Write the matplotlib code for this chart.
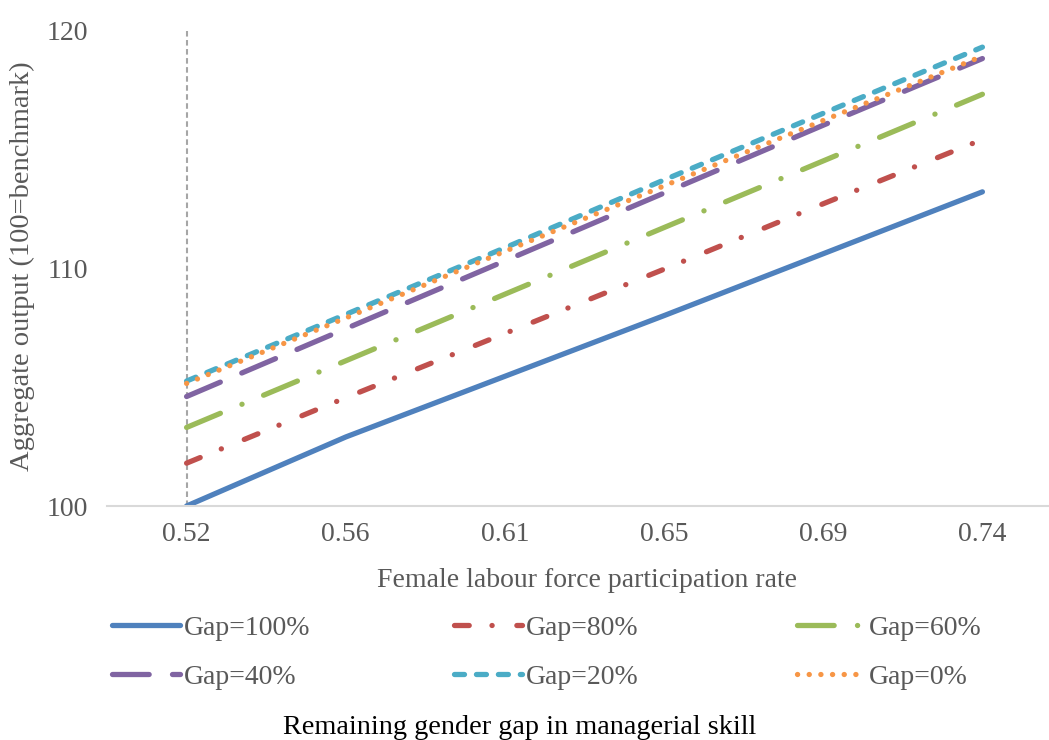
import matplotlib
matplotlib.use("Agg")
import matplotlib.pyplot as plt

plt.rcParams['font.family'] = ['Liberation Serif', 'DejaVu Serif']
plt.rcParams['lines.scale_dashes'] = False

categories = ["0.52", "0.56", "0.61", "0.65", "0.69", "0.74"]
gap100 = [100.0, 102.9, 105.45, 108.0, 110.6, 113.2]
gap80 = [101.8, 104.55, 107.25, 109.95, 112.7, 115.4]
gap60 = [103.3, 106.1, 108.9, 111.7, 114.5, 117.3]
gap40 = [104.6, 107.45, 110.3, 113.15, 116.0, 118.8]
gap20 = [105.25, 108.05, 110.85, 113.7, 116.5, 119.28]
gap0 = [105.15, 107.9, 110.7, 113.45, 116.2, 118.9]
series_labels = ["Gap=100%", "Gap=80%", "Gap=60%", "Gap=40%", "Gap=20%", "Gap=0%"]
yticks = [100, 110, 120]

W, H = 1049, 740
fig = plt.figure(figsize=(W / 100, H / 100), dpi=100)
ax = fig.add_axes([107 / W, (H - 506) / H, 955 / W, 476 / H])

lw = 3.8
styles = [
    dict(color='#4F81BD', linestyle='-'),
    dict(color='#C0504D', linestyle=(0, (10.6, 16.4, 0.1, 17.8))),
    dict(color='#9BBB59', linestyle=(0, (26.4, 16.8, 0.1, 16.8))),
    dict(color='#8064A2', linestyle=(0, (26.4, 16.8))),
    dict(color='#4BACC6', linestyle=(0, (7.2, 8.6))),
    dict(color='#F79646', linestyle=(0, (0.1, 8.3))),
]
data = [gap100, gap80, gap60, gap40, gap20, gap0]
x = list(range(len(categories)))
lines = []
for vals, st, lab in zip(data, styles, series_labels):
    ln, = ax.plot(x, vals, lw=lw, solid_capstyle='round', dash_capstyle='round',
                  label=lab, **st)
    lines.append(ln)

ax.axvline(0, ymin=0, ymax=1, color='#A6A6A6', lw=1.5, linestyle=(0, (4, 2.5)), zorder=0.5)

ax.set_xlim(-0.5, 5.5)
ax.set_ylim(100, 120)
ax.set_xticks(x)
ax.set_xticklabels(categories)
ax.set_yticks(yticks)
ax.set_yticklabels([str(v) for v in yticks])
ax.tick_params(axis='both', length=0, labelsize=20, labelcolor='#595959')
ax.tick_params(axis='x', pad=11.5)
ax.tick_params(axis='y', pad=13.5)
for s in ['top', 'right', 'left']:
    ax.spines[s].set_visible(False)
ax.spines['bottom'].set_color('#D9D9D9')
ax.spines['bottom'].set_linewidth(1.5)
ax.set_facecolor('none')

fig.text(22 / W, 1 - 266 / H, "Aggregate output (100=benchmark)", rotation=90,
         ha='center', va='center', fontsize=20.5, color='#595959')
fig.text(587 / W, 1 - 587 / H, "Female labour force participation rate",
         ha='center', va='baseline', fontsize=20, color='#595959')

col_x = [112.0, 454.0, 797.0]
row_y = [628, 677]
for i, ln in enumerate(lines):
    r, c = divmod(i, 3)
    fig.legend([ln], [series_labels[i]], loc='center left',
               bbox_to_anchor=(col_x[c] / W, 1 - row_y[r] / H),
               bbox_transform=fig.transFigure, frameon=False,
               borderpad=0, borderaxespad=0, handlelength=2.45,
               handletextpad=0.14, fontsize=20, labelcolor='#595959')

fig.text(520 / W, 1 - 734 / H, "Remaining gender gap in managerial skill",
         ha='center', va='baseline', fontsize=20.3, color='black')

fig.savefig("out.png", dpi=100)
